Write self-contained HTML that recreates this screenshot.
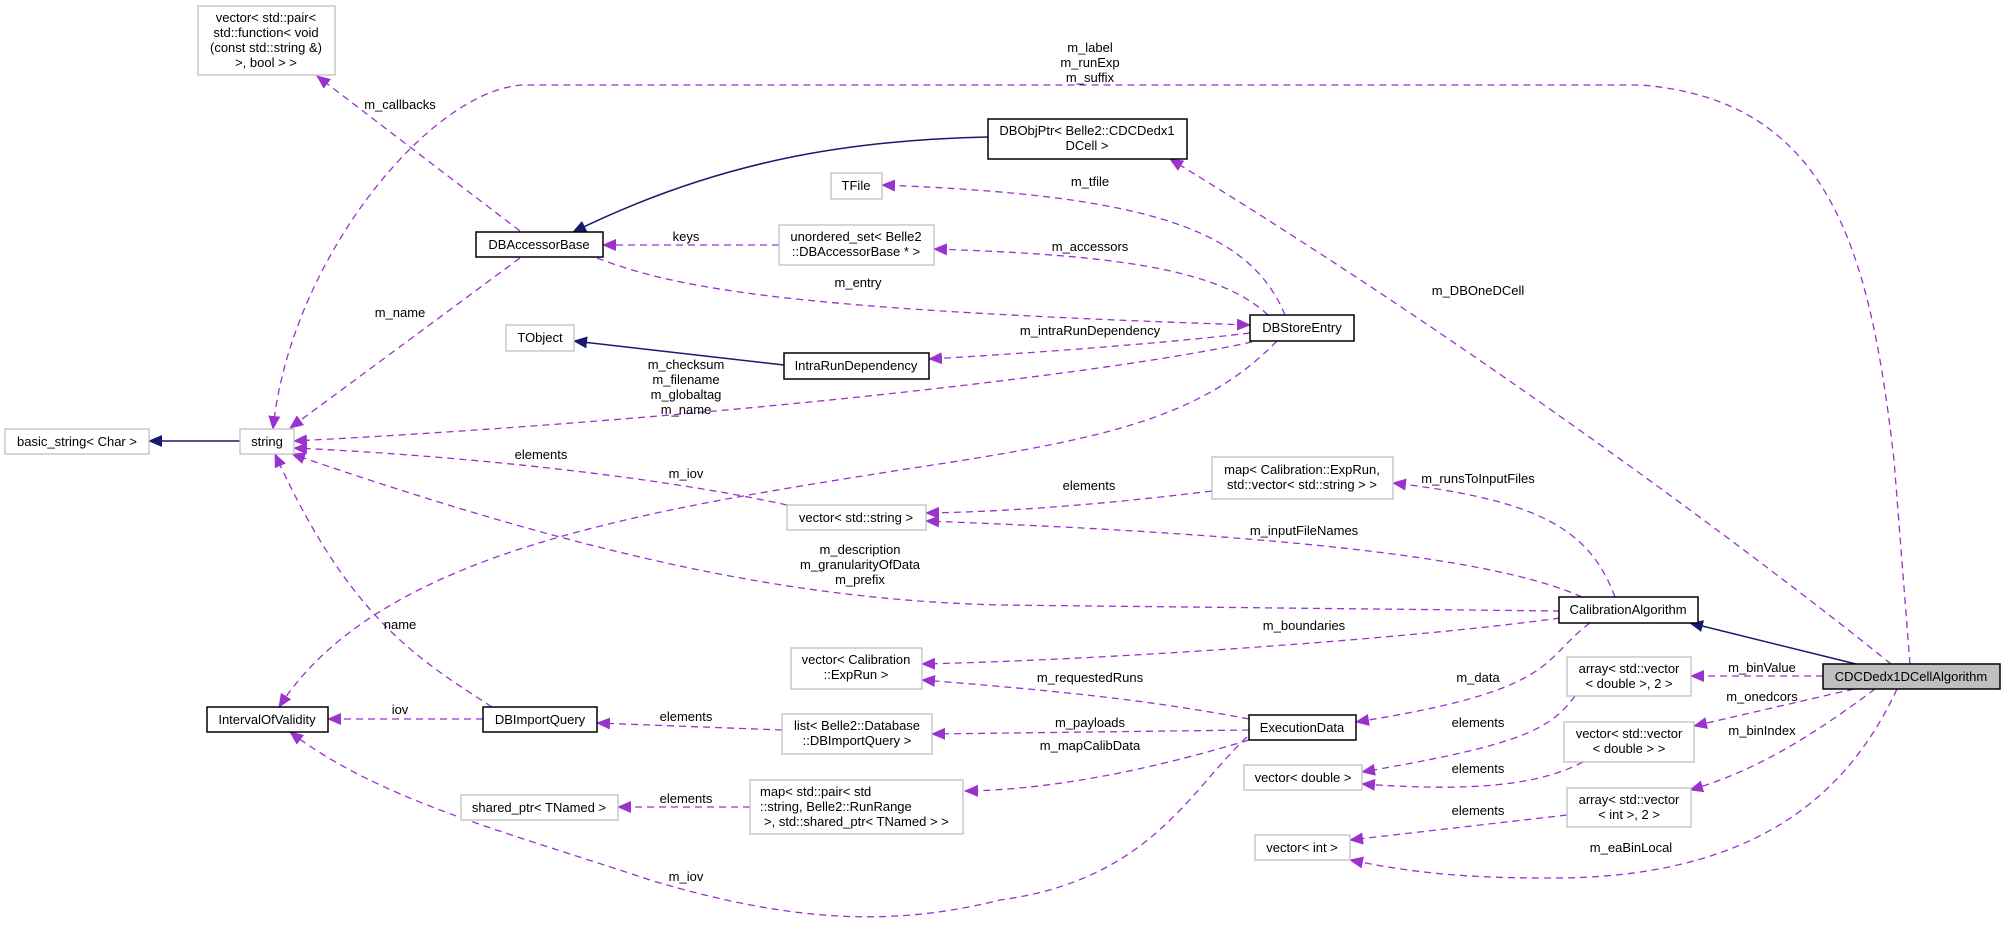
<!DOCTYPE html>
<html><head><meta charset="utf-8"><style>
html,body{margin:0;padding:0;background:#fff;}
svg{display:block;}
text{font-family:"Liberation Sans",Arial,sans-serif;font-size:13px;fill:#000;}
.g{fill:#fff;stroke:#bfbfbf;stroke-width:1.3;}
.b{fill:#fff;stroke:#000;stroke-width:1.5;}
.d{fill:none;stroke:#9a32cd;stroke-width:1.3;stroke-dasharray:7,5;}
.s{fill:none;stroke:#191970;stroke-width:1.5;}
</style></head><body>
<svg width="2005" height="925" viewBox="0 0 2005 925" xmlns="http://www.w3.org/2000/svg">
<defs>
<marker id="p" markerUnits="userSpaceOnUse" markerWidth="14" markerHeight="12" refX="13" refY="6" orient="auto"><path d="M0,0 L14,6 L0,12 z" fill="#9a32cd"/></marker>
<marker id="n" markerUnits="userSpaceOnUse" markerWidth="14" markerHeight="12" refX="13" refY="6" orient="auto"><path d="M0,0 L14,6 L0,12 z" fill="#191970"/></marker>
</defs>
<!-- edges -->
<path class="s" d="M988,137 C850,140 720,160 573,232" marker-end="url(#n)"/>
<path class="s" d="M240,441 L149,441" marker-end="url(#n)"/>
<path class="s" d="M784,365 L574,341" marker-end="url(#n)"/>
<path class="s" d="M1856,664 L1690,623" marker-end="url(#n)"/>
<path class="d" d="M520,231 L317,76" marker-end="url(#p)"/>
<path class="d" d="M1910,664 L1894,460 C1870,250 1830,100 1641,85 L523,85 C430,90 290,260 273,429" marker-end="url(#p)"/>
<path class="d" d="M520,258 L290,428" marker-end="url(#p)"/>
<path class="d" d="M779,245 L603,245" marker-end="url(#p)"/>
<path class="d" d="M1285,315 C1250,230 1150,195 882,185" marker-end="url(#p)"/>
<path class="d" d="M1268,315 C1220,270 1120,255 934,249" marker-end="url(#p)"/>
<path class="d" d="M597,258 C680,290 800,310 1250,325" marker-end="url(#p)"/>
<path class="d" d="M1250,333 C1150,345 1000,355 929,359" marker-end="url(#p)"/>
<path class="d" d="M1252,342 C1100,375 700,420 294,441" marker-end="url(#p)"/>
<path class="d" d="M1277,341 C1200,420 1100,440 900,470 C650,510 380,550 279,707" marker-end="url(#p)"/>
<path class="d" d="M787,505 C650,475 450,455 294,448" marker-end="url(#p)"/>
<path class="d" d="M1212,491 C1100,505 1000,512 926,513" marker-end="url(#p)"/>
<path class="d" d="M1615,597 C1590,530 1540,500 1393,483" marker-end="url(#p)"/>
<path class="d" d="M1582,597 C1500,560 1300,535 926,521" marker-end="url(#p)"/>
<path class="d" d="M1560,611 L1000,605 C800,600 600,560 292,454" marker-end="url(#p)"/>
<path class="d" d="M1560,618 C1400,640 1100,660 922,664" marker-end="url(#p)"/>
<path class="d" d="M1590,623 C1540,660 1560,690 1356,722" marker-end="url(#p)"/>
<path class="d" d="M1249,719 C1150,700 1050,690 922,680" marker-end="url(#p)"/>
<path class="d" d="M1249,730 L932,734" marker-end="url(#p)"/>
<path class="d" d="M1249,740 C1150,770 1050,790 965,791" marker-end="url(#p)"/>
<path class="d" d="M1247,737 C1190,790 1150,880 1000,900 C900,925 800,925 650,880 C500,830 380,800 290,732" marker-end="url(#p)"/>
<path class="d" d="M483,719 L328,719" marker-end="url(#p)"/>
<path class="d" d="M492,707 C420,660 350,620 275,454" marker-end="url(#p)"/>
<path class="d" d="M782,730 L597,723" marker-end="url(#p)"/>
<path class="d" d="M750,807 L618,807" marker-end="url(#p)"/>
<path class="d" d="M1823,676 L1691,676" marker-end="url(#p)"/>
<path class="d" d="M1854,689 L1694,726" marker-end="url(#p)"/>
<path class="d" d="M1875,689 C1820,730 1760,770 1690,790" marker-end="url(#p)"/>
<path class="d" d="M1897,689 C1850,790 1760,880 1545,878 C1450,878 1400,870 1350,860" marker-end="url(#p)"/>
<path class="d" d="M1891,664 C1800,590 1500,360 1170,159" marker-end="url(#p)"/>
<path class="d" d="M1575,696 C1550,730 1520,745 1362,772" marker-end="url(#p)"/>
<path class="d" d="M1583,762 C1530,790 1450,790 1362,784" marker-end="url(#p)"/>
<path class="d" d="M1567,815 L1350,840" marker-end="url(#p)"/>
<!-- nodes -->
<rect class="g" x="198" y="6" width="137" height="69"/>
<text text-anchor="middle" x="266" y="22">vector&lt; std::pair&lt;</text>
<text text-anchor="middle" x="266" y="37">std::function&lt; void</text>
<text text-anchor="middle" x="266" y="52">(const std::string &amp;)</text>
<text text-anchor="middle" x="266" y="67">&gt;, bool &gt; &gt;</text>
<rect class="b" x="988" y="119" width="199" height="40"/>
<text text-anchor="middle" x="1087" y="135">DBObjPtr&lt; Belle2::CDCDedx1</text>
<text text-anchor="middle" x="1087" y="150">DCell &gt;</text>
<rect class="g" x="831" y="173" width="51" height="26"/><text text-anchor="middle" x="856" y="190">TFile</text>
<rect class="b" x="476" y="232" width="127" height="25"/><text text-anchor="middle" x="539" y="249">DBAccessorBase</text>
<rect class="g" x="779" y="225" width="155" height="40"/>
<text text-anchor="middle" x="856" y="241">unordered_set&lt; Belle2</text>
<text text-anchor="middle" x="856" y="256">::DBAccessorBase * &gt;</text>
<rect class="b" x="1250" y="315" width="104" height="26"/><text text-anchor="middle" x="1302" y="332">DBStoreEntry</text>
<rect class="g" x="506" y="325" width="68" height="26"/><text text-anchor="middle" x="540" y="342">TObject</text>
<rect class="b" x="784" y="353" width="145" height="26"/><text text-anchor="middle" x="856" y="370">IntraRunDependency</text>
<rect class="g" x="5" y="429" width="144" height="25"/><text text-anchor="middle" x="77" y="446">basic_string&lt; Char &gt;</text>
<rect class="g" x="240" y="429" width="54" height="25"/><text text-anchor="middle" x="267" y="446">string</text>
<rect class="g" x="1212" y="457" width="181" height="42"/>
<text text-anchor="middle" x="1302" y="474">map&lt; Calibration::ExpRun,</text>
<text text-anchor="middle" x="1302" y="489">std::vector&lt; std::string &gt; &gt;</text>
<rect class="g" x="787" y="505" width="139" height="25"/><text text-anchor="middle" x="856" y="522">vector&lt; std::string &gt;</text>
<rect class="b" x="1559" y="597" width="139" height="26"/><text text-anchor="middle" x="1628" y="614">CalibrationAlgorithm</text>
<rect class="g" x="791" y="648" width="131" height="41"/>
<text text-anchor="middle" x="856" y="664">vector&lt; Calibration</text>
<text text-anchor="middle" x="856" y="679">::ExpRun &gt;</text>
<rect class="g" x="1567" y="657" width="124" height="39"/>
<text text-anchor="middle" x="1629" y="673">array&lt; std::vector</text>
<text text-anchor="middle" x="1629" y="688">&lt; double &gt;, 2 &gt;</text>
<rect x="1823" y="664" width="177" height="25" fill="#bfbfbf" stroke="#000" stroke-width="1.5"/>
<text text-anchor="middle" x="1911" y="681">CDCDedx1DCellAlgorithm</text>
<rect class="b" x="207" y="707" width="121" height="25"/><text text-anchor="middle" x="267" y="724">IntervalOfValidity</text>
<rect class="b" x="483" y="707" width="114" height="25"/><text text-anchor="middle" x="540" y="724">DBImportQuery</text>
<rect class="g" x="782" y="714" width="150" height="40"/>
<text text-anchor="middle" x="857" y="730">list&lt; Belle2::Database</text>
<text text-anchor="middle" x="857" y="745">::DBImportQuery &gt;</text>
<rect class="b" x="1249" y="715" width="107" height="25"/><text text-anchor="middle" x="1302" y="732">ExecutionData</text>
<rect class="g" x="1564" y="722" width="130" height="40"/>
<text text-anchor="middle" x="1629" y="738">vector&lt; std::vector</text>
<text text-anchor="middle" x="1629" y="753">&lt; double &gt; &gt;</text>
<rect class="g" x="1244" y="765" width="118" height="25"/><text text-anchor="middle" x="1303" y="782">vector&lt; double &gt;</text>
<rect class="g" x="750" y="780" width="213" height="54"/>
<text x="760" y="796">map&lt; std::pair&lt; std</text>
<text x="760" y="811">::string, Belle2::RunRange</text>
<text x="764" y="826">&gt;, std::shared_ptr&lt; TNamed &gt; &gt;</text>
<rect class="g" x="461" y="795" width="157" height="25"/><text text-anchor="middle" x="539" y="812">shared_ptr&lt; TNamed &gt;</text>
<rect class="g" x="1567" y="788" width="124" height="39"/>
<text text-anchor="middle" x="1629" y="804">array&lt; std::vector</text>
<text text-anchor="middle" x="1629" y="819">&lt; int &gt;, 2 &gt;</text>
<rect class="g" x="1255" y="835" width="95" height="25"/><text text-anchor="middle" x="1302" y="852">vector&lt; int &gt;</text>
<!-- labels -->
<g text-anchor="middle">
<text x="1090" y="52">m_label</text><text x="1090" y="67">m_runExp</text><text x="1090" y="82">m_suffix</text>
<text x="400" y="109">m_callbacks</text>
<text x="1090" y="186">m_tfile</text>
<text x="686" y="241">keys</text>
<text x="1090" y="251">m_accessors</text>
<text x="858" y="287">m_entry</text>
<text x="1478" y="295">m_DBOneDCell</text>
<text x="400" y="317">m_name</text>
<text x="1090" y="335">m_intraRunDependency</text>
<text x="686" y="369">m_checksum</text><text x="686" y="384">m_filename</text><text x="686" y="399">m_globaltag</text><text x="686" y="414">m_name</text>
<text x="541" y="459">elements</text>
<text x="686" y="478">m_iov</text>
<text x="1089" y="490">elements</text>
<text x="1478" y="483">m_runsToInputFiles</text>
<text x="1304" y="535">m_inputFileNames</text>
<text x="860" y="554">m_description</text><text x="860" y="569">m_granularityOfData</text><text x="860" y="584">m_prefix</text>
<text x="400" y="629">name</text>
<text x="1304" y="630">m_boundaries</text>
<text x="1762" y="672">m_binValue</text>
<text x="1090" y="682">m_requestedRuns</text>
<text x="1478" y="682">m_data</text>
<text x="1762" y="701">m_onedcors</text>
<text x="400" y="714">iov</text>
<text x="686" y="721">elements</text>
<text x="1090" y="727">m_payloads</text>
<text x="1478" y="727">elements</text>
<text x="1762" y="735">m_binIndex</text>
<text x="1090" y="750">m_mapCalibData</text>
<text x="1478" y="773">elements</text>
<text x="686" y="803">elements</text>
<text x="1478" y="815">elements</text>
<text x="1631" y="852">m_eaBinLocal</text>
<text x="686" y="881">m_iov</text>
</g>
</svg>
</body></html>
